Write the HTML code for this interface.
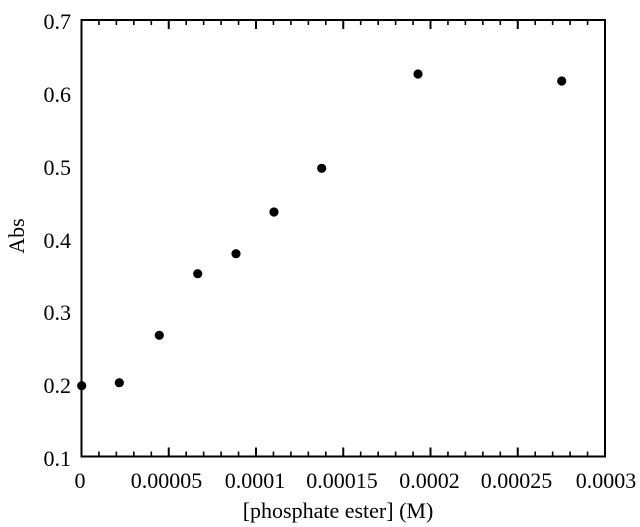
<!DOCTYPE html>
<html><head><meta charset="utf-8"><style>
html,body{margin:0;padding:0;background:#fff;}
svg{display:block;}
</style></head><body>
<svg width="640" height="527" viewBox="0 0 640 527" xmlns="http://www.w3.org/2000/svg" font-family="'Liberation Serif', 'DejaVu Serif', serif">
<rect x="0" y="0" width="640" height="527" fill="#fff"/>
<g stroke="#000" stroke-width="2" fill="none">
<rect x="81.5" y="20" width="523.5" height="436.5"/>
</g>
<g stroke="#000" stroke-width="2">
<line x1="81.5" y1="456.5" x2="81.5" y2="447.5"/>
<line x1="168.75" y1="456.5" x2="168.75" y2="447.5"/>
<line x1="256" y1="456.5" x2="256" y2="447.5"/>
<line x1="343.25" y1="456.5" x2="343.25" y2="447.5"/>
<line x1="430.5" y1="456.5" x2="430.5" y2="447.5"/>
<line x1="517.75" y1="456.5" x2="517.75" y2="447.5"/>
<line x1="168.75" y1="20" x2="168.75" y2="29"/>
<line x1="256" y1="20" x2="256" y2="29"/>
<line x1="343.25" y1="20" x2="343.25" y2="29"/>
<line x1="430.5" y1="20" x2="430.5" y2="29"/>
<line x1="517.75" y1="20" x2="517.75" y2="29"/>
</g>
<g stroke="#000" stroke-width="1.6">
<path d="M98.95 456.5v-5M116.4 456.5v-5M133.85 456.5v-5M151.3 456.5v-5
M186.2 456.5v-5M203.65 456.5v-5M221.1 456.5v-5M238.55 456.5v-5
M273.45 456.5v-5M290.9 456.5v-5M308.35 456.5v-5M325.8 456.5v-5
M360.7 456.5v-5M378.15 456.5v-5M395.6 456.5v-5M413.05 456.5v-5
M447.95 456.5v-5M465.4 456.5v-5M482.85 456.5v-5M500.3 456.5v-5
M535.2 456.5v-5M552.65 456.5v-5M570.1 456.5v-5M587.55 456.5v-5
M98.95 20v5M116.4 20v5M133.85 20v5M151.3 20v5
M186.2 20v5M203.65 20v5M221.1 20v5M238.55 20v5
M273.45 20v5M290.9 20v5M308.35 20v5M325.8 20v5
M360.7 20v5M378.15 20v5M395.6 20v5M413.05 20v5
M447.95 20v5M465.4 20v5M482.85 20v5M500.3 20v5
M535.2 20v5M552.65 20v5M570.1 20v5M587.55 20v5"/>
</g>
<g font-size="22" text-anchor="end" fill="#000">
<text x="71" y="29">0.7</text>
<text x="71" y="102">0.6</text>
<text x="71" y="175">0.5</text>
<text x="71" y="248">0.4</text>
<text x="71" y="320">0.3</text>
<text x="71" y="393">0.2</text>
<text x="71" y="466">0.1</text>
</g>
<g font-size="22" text-anchor="middle" fill="#000">
<text x="80" y="488">0</text>
<text x="166.5" y="488">0.00005</text>
<text x="255" y="488">0.0001</text>
<text x="342" y="488">0.00015</text>
<text x="429.5" y="488">0.0002</text>
<text x="516.5" y="488">0.00025</text>
<text x="606" y="488">0.0003</text>
</g>
<text x="338" y="518" font-size="22" text-anchor="middle" fill="#000">[phosphate ester] (M)</text>
<text transform="translate(24,236) rotate(-90)" font-size="22" text-anchor="middle" fill="#000">Abs</text>
<g fill="#000">
<circle cx="81.7" cy="385.7" r="4.6"/>
<circle cx="119.3" cy="382.7" r="4.6"/>
<circle cx="159.3" cy="335.3" r="4.6"/>
<circle cx="197.7" cy="273.7" r="4.6"/>
<circle cx="236" cy="253.7" r="4.6"/>
<circle cx="274" cy="212" r="4.6"/>
<circle cx="321.7" cy="168.3" r="4.6"/>
<circle cx="418" cy="74" r="4.6"/>
<circle cx="561.7" cy="81" r="4.6"/>
</g>
</svg>
</body></html>
